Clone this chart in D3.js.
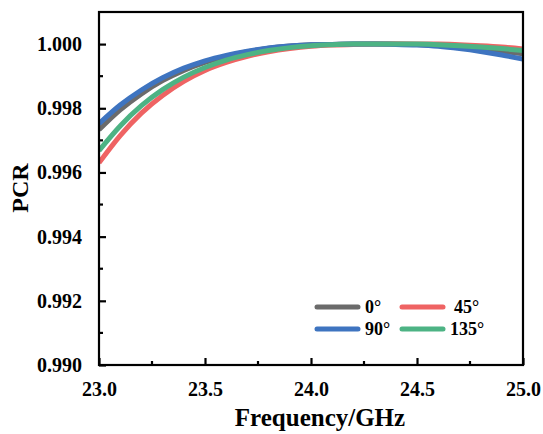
<!DOCTYPE html>
<html><head><meta charset="utf-8">
<script src="https://cdn.jsdelivr.net/npm/d3@7"></script>
<style>body{margin:0;background:#fff}svg{display:block}</style>
</head><body><svg id="c" width="543" height="434"></svg>
<script>
const freq = [23.0,23.1,23.2,23.3,23.4,23.5,23.6,23.7,23.8,23.9,24.0,24.1,24.2,24.3,24.4,24.5,24.6,24.7,24.8,24.9,25.0];
const pcr0   = [0.99733,0.99795,0.99845,0.99886,0.99918,0.99943,0.99962,0.99976,0.99987,0.99994,0.99998,0.99999,1.00000,1.00000,1.00000,0.99999,0.99996,0.99991,0.99985,0.99978,0.99970];
const pcr45  = [0.99630,0.99715,0.99785,0.99840,0.99884,0.99918,0.99943,0.99962,0.99976,0.99986,0.99993,0.99997,0.99999,1.00000,1.00000,1.00000,1.00000,0.99998,0.99995,0.99991,0.99985];
const pcr90  = [0.99752,0.99810,0.99857,0.99895,0.99925,0.99948,0.99965,0.99978,0.99988,0.99994,0.99998,0.99999,1.00000,1.00000,0.99999,0.99997,0.99993,0.99986,0.99977,0.99966,0.99953];
const pcr135 = [0.99668,0.99745,0.99808,0.99858,0.99897,0.99927,0.99950,0.99967,0.99980,0.99989,0.99995,0.99998,1.00000,1.00000,1.00000,1.00000,0.99998,0.99995,0.99991,0.99986,0.99980];
const seriesNames = ["0°","45°","90°","135°"];
const xTicks = [23.0,23.5,24.0,24.5,25.0];
const yTicks = [0.990,0.992,0.994,0.996,0.998,1.000];

const colors = {"0°":"#6b6b6b","45°":"#ef6363","90°":"#3e74c0","135°":"#4db384"};
const seriesData = {"0°":pcr0,"45°":pcr45,"90°":pcr90,"135°":pcr135};
const drawOrder = ["0°","45°","90°","135°"];
const FONT = '"Liberation Serif", "Times New Roman", serif';

const svg = d3.select("#c");
const L=99,R=523,T=12,B=365;
const x = d3.scaleLinear().domain([23,25]).range([L,R]);
const y = d3.scaleLinear().domain([0.990,1.001]).range([B,T]);

svg.append("defs").append("clipPath").attr("id","clip").append("rect").attr("x",L).attr("y",T).attr("width",R-L).attr("height",B-T);

const line = d3.line().x(d=>x(d[0])).y(d=>y(d[1])).curve(d3.curveMonotoneX);
const g = svg.append("g").attr("clip-path","url(#clip)");
drawOrder.forEach(n=>{
  g.append("path").datum(freq.map((f,i)=>[f,seriesData[n][i]]))
   .attr("d",line).attr("fill","none").attr("stroke",colors[n]).attr("stroke-width",5).attr("stroke-linecap","butt");
});

function styleText(sel, size){
  sel.style("font-family",FONT).style("font-weight","bold").style("font-size",size).style("fill","#000");
}

const xMinor = d3.range(23.25,25,0.5);
const yMinor = d3.range(0.991,1.0005,0.002);
const xa = svg.append("g").attr("transform",`translate(0,${B})`)
  .call(d3.axisBottom(x).tickValues(xTicks).tickFormat(d3.format(".1f")).tickSizeInner(-7).tickSizeOuter(0).tickPadding(17));
xa.select(".domain").remove();
xa.selectAll("line").attr("stroke","#000").attr("stroke-width",2.2);
styleText(xa.selectAll("text"),"20px");
xa.selectAll(".minor").data(xMinor).enter().append("line").attr("class","minor")
  .attr("x1",d=>x(d)).attr("x2",d=>x(d)).attr("y1",0).attr("y2",-4).attr("stroke","#000").attr("stroke-width",2.2);

const ya = svg.append("g").attr("transform",`translate(${L},0)`)
  .call(d3.axisLeft(y).tickValues(yTicks).tickFormat(d3.format(".3f")).tickSizeInner(-7).tickSizeOuter(0).tickPadding(17));
ya.select(".domain").remove();
ya.selectAll("line").attr("stroke","#000").attr("stroke-width",2.2);
styleText(ya.selectAll("text"),"20px");
ya.selectAll(".minor").data(yMinor).enter().append("line").attr("class","minor")
  .attr("x1",0).attr("x2",4).attr("y1",d=>y(d)).attr("y2",d=>y(d)).attr("stroke","#000").attr("stroke-width",2.2);

svg.append("rect").attr("x",L).attr("y",T).attr("width",R-L).attr("height",B-T)
  .attr("fill","none").attr("stroke","#000").attr("stroke-width",2.2);

styleText(svg.append("text").attr("x",320).attr("y",426).attr("text-anchor","middle").text("Frequency/GHz"),"25px");
styleText(svg.append("text").attr("transform","translate(28,188) rotate(-90)").attr("text-anchor","middle").text("PCR"),"24px");

const legPos = {"0°":[317,307,365],"45°":[402,307,454],"90°":[317,329,365],"135°":[402,329,450]};
seriesNames.forEach(n=>{
  const p = legPos[n];
  svg.append("line").attr("x1",p[0]).attr("x2",p[0]+41).attr("y1",p[1]).attr("y2",p[1])
    .attr("stroke",colors[n]).attr("stroke-width",5).attr("stroke-linecap","round");
  styleText(svg.append("text").attr("x",p[2]).attr("y",p[1]+6).text(n),"18px");
});
</script></body></html>
